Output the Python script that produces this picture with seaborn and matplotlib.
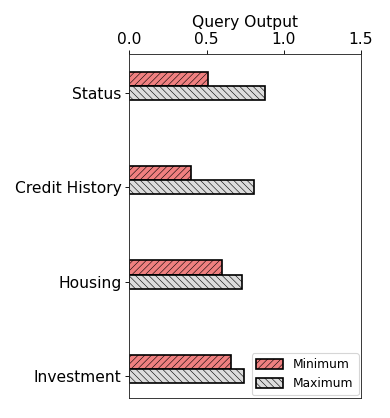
import pandas as pd
import numpy as np
import seaborn as sns
import matplotlib.pyplot as plt

# Data
features = ['Status', 'Credit History', 'Housing', 'Investment']
min_values = [0.51, 0.40, 0.60, 0.66]
max_values = [0.88, 0.81, 0.73, 0.74]
series_names = ['Minimum', 'Maximum']
series_colors = ['lightcoral', '#dcdcdc']
series_hatches = ['////', '\\\\\\\\']
x_ticks = [0.0, 0.5, 1.0, 1.5]

sns.set_style('ticks')
plt.rcParams['font.family'] = ['DejaVu Sans']
plt.rcParams['hatch.linewidth'] = 0.5
for key in ['text.color', 'axes.labelcolor', 'xtick.color', 'ytick.color']:
    plt.rcParams[key] = 'black'

df = pd.DataFrame({
    'feature': features * 2,
    'value': min_values + max_values,
    'series': [series_names[0]] * len(features) + [series_names[1]] * len(features),
})

fig = plt.figure(figsize=(390 / 80, 418 / 80), dpi=80)
ax = fig.add_axes([0.3315, 0.0485, 0.5941, 0.8215])

bar_h = 0.15
sns.barplot(data=df, y='feature', x='value', hue='series', orient='h',
            palette=dict(zip(series_names, series_colors)), saturation=1,
            width=2 * bar_h, edgecolor='black', linewidth=1.5, ax=ax)

# hatch each series
for container, hatch in zip(ax.containers, series_hatches):
    for bar in container:
        bar.set_hatch(hatch)

# tick sits on the centre of the Maximum bar
y = np.arange(len(features))
ax.set_yticks(y + bar_h / 2, features, fontsize=14)
ax.set_ylim(y[-1] + bar_h / 2 + 0.23, bar_h / 2 - 0.41)

ax.set_xlim(0, 1.5)
ax.set_xticks(x_ticks, [f'{t:.1f}' for t in x_ticks], fontsize=14)
ax.xaxis.set_ticks_position('top')
ax.xaxis.set_label_position('top')
ax.set_xlabel('Query Output', fontsize=14)
ax.set_ylabel('')

handles = [ax.containers[0][0], ax.containers[1][0]]
ax.legend(handles, series_names, loc='lower right', fontsize=11,
          handlelength=2.2, handleheight=0.85, borderaxespad=0.2)

plt.savefig('out.png', dpi=80)
